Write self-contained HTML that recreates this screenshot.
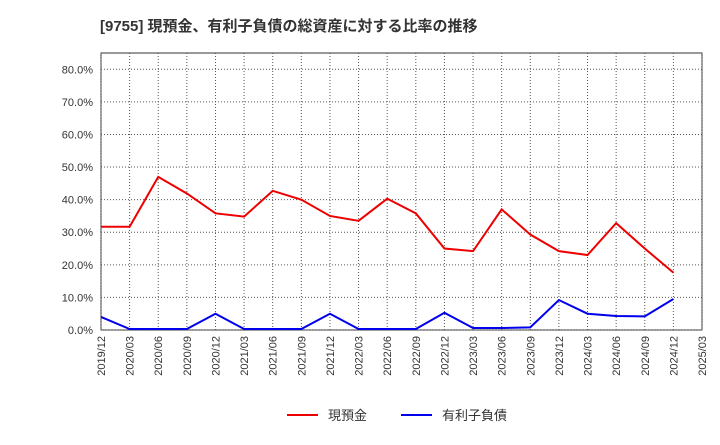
<!DOCTYPE html>
<html><head><meta charset="utf-8"><style>
body{margin:0;background:#fff;font-family:"Liberation Sans","Noto Sans CJK JP",sans-serif;}
</style></head><body>
<svg id="c" width="720" height="440" xmlns="http://www.w3.org/2000/svg">
<text x="100" y="31" font-size="15" font-weight="bold" fill="#333">[9755]  現預金、有利子負債の総資産に対する比率の推移</text>
<g id="grid"></g><g id="axes"></g><g id="series"></g>
<g>
<line x1="287" y1="415" x2="318" y2="415" stroke="#e00" stroke-width="2"/>
<text x="328" y="420" font-size="13" fill="#333">現預金</text>
<line x1="401" y1="415" x2="432" y2="415" stroke="#00e" stroke-width="2"/>
<text x="442" y="420" font-size="13" fill="#333">有利子負債</text>
</g>
</svg>
<script>
const categories=["2019/12","2020/03","2020/06","2020/09","2020/12","2021/03","2021/06","2021/09","2021/12","2022/03","2022/06","2022/09","2022/12","2023/03","2023/06","2023/09","2023/12","2024/03","2024/06","2024/09","2024/12","2025/03"];
const cashValues=[31.7,31.7,47,41.9,35.8,34.8,42.7,40,35,33.5,40.3,35.8,25,24.2,37,29.3,24.2,23,32.8,25,17.6];
const debtValues=[4,0.3,0.3,0.3,5,0.3,0.3,0.3,5,0.3,0.3,0.3,5.3,0.6,0.6,0.8,9.2,5,4.3,4.2,9.5];
const yTicks=[0,10,20,30,40,50,60,70,80];
const L=101,R=702,T=53,B=330,yMax=85;
const NS="http://www.w3.org/2000/svg";
const x=i=>L+(R-L)*i/(categories.length-1);
const y=v=>B-(B-T)*v/yMax;
function mk(tag,attrs,parent){const e=document.createElementNS(NS,tag);for(const k in attrs)e.setAttribute(k,attrs[k]);document.getElementById(parent).appendChild(e);return e;}
const bg=mk("rect",{x:L,y:T,width:R-L,height:B-T,fill:"#fff",stroke:"#333","stroke-width":1},"grid");


yTicks.forEach(v=>{
 const g=mk("line",{x1:L,x2:R,y1:y(v),y2:y(v),stroke:"#555","stroke-dasharray":"1,2","stroke-width":1},"grid");
 
 
 const t=mk("text",{x:L-8,y:y(v)+4,"text-anchor":"end","font-size":11,fill:"#333"},"axes");
 t.textContent=v.toFixed(1)+"%";
 
 
});
categories.forEach((c,i)=>{
 const g=mk("line",{x1:x(i),x2:x(i),y1:T,y2:B,stroke:"#555","stroke-dasharray":"1,2","stroke-width":1},"grid");
 
 
 const t=mk("text",{x:0,y:0,"text-anchor":"end","font-size":11,fill:"#333",transform:`translate(${x(i)+4},${B+6}) rotate(-90)`},"axes");
 t.textContent=c;
 
 
});
const p1=mk("polyline",{points:cashValues.map((v,i)=>x(i)+","+y(v)).join(" "),fill:"none",stroke:"#e00","stroke-width":2},"series");


const p2=mk("polyline",{points:debtValues.map((v,i)=>x(i)+","+y(v)).join(" "),fill:"none",stroke:"#00e","stroke-width":2},"series");


</script>
</body></html>
